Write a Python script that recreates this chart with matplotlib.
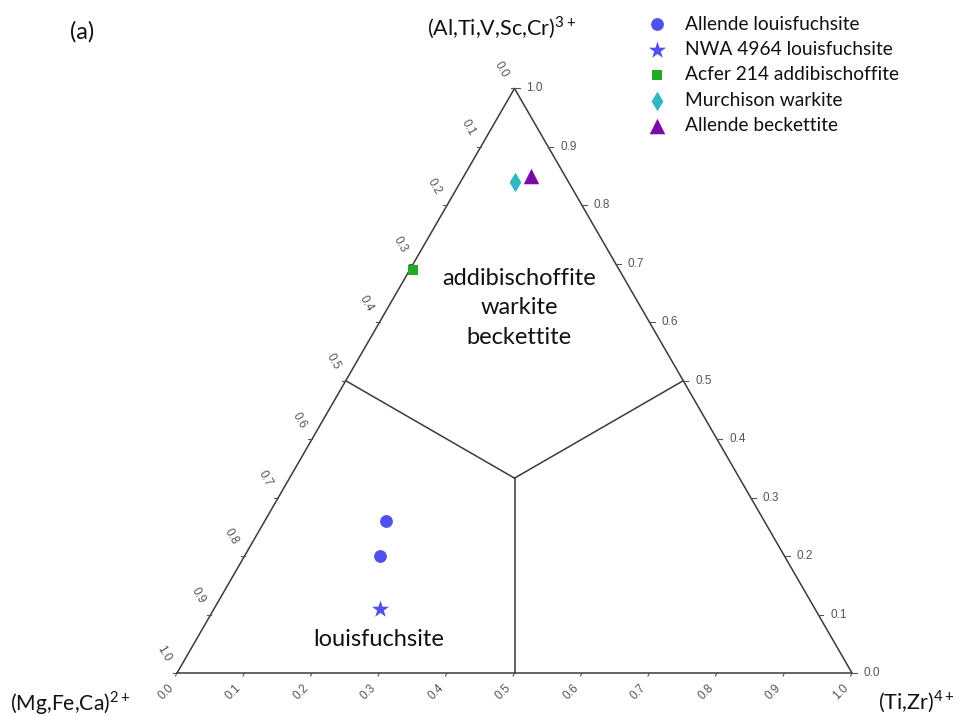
import numpy as np
import matplotlib
matplotlib.use("Agg")
import matplotlib.pyplot as plt

# ---- compositions (fractions of (Mg,Fe,Ca)2+, (Ti,Zr)4+, (Al,Ti,V,Sc,Cr)3+) ----
allende_lf_mg = [0.56, 0.60]
allende_lf_ti = [0.18, 0.20]
allende_lf_al = [0.26, 0.20]

nwa_lf_mg = [0.645]
nwa_lf_ti = [0.245]
nwa_lf_al = [0.11]

acfer_ad_mg = [0.305]
acfer_ad_ti = [0.005]
acfer_ad_al = [0.69]

murch_wk_mg = [0.08]
murch_wk_ti = [0.08]
murch_wk_al = [0.84]

allende_bk_mg = [0.05]
allende_bk_ti = [0.10]
allende_bk_al = [0.85]

tick_values = [0.0, 0.1, 0.2, 0.3, 0.4, 0.5, 0.6, 0.7, 0.8, 0.9, 1.0]
tick_labels = ["0.0", "0.1", "0.2", "0.3", "0.4", "0.5", "0.6", "0.7", "0.8", "0.9", "1.0"]

series_names = ["Allende louisfuchsite", "NWA 4964 louisfuchsite",
                "Acfer 214 addibischoffite", "Murchison warkite",
                "Allende beckettite"]

S3 = np.sqrt(3) / 2


def tern(mg, ti, al):
    ti = np.asarray(ti, float)
    al = np.asarray(al, float)
    return ti + al / 2, al * S3


W, H = 958, 716
X0, Y0, L = 177.0, 673.0, 675.0     # pixel placement of the triangle


def px(x, y):
    """figure pixel -> data coordinates"""
    return (x - X0) / L, (Y0 - y) / L


plt.rcParams['font.family'] = ['Lato', 'DejaVu Sans']
plt.rcParams['mathtext.fontset'] = 'custom'
plt.rcParams['mathtext.rm'] = 'Lato'

fig = plt.figure(figsize=(W / 100, H / 100), dpi=100)
ax = fig.add_axes([0, 0, 1, 1])
ax.set_xlim(-X0 / L, (W - X0) / L)
ax.set_ylim((Y0 - H) / L, Y0 / L)
ax.axis("off")

edge = "#3a3a3a"
# triangle outline
tx, ty = tern([1, 0, 0, 1], [0, 1, 0, 0], [0, 0, 1, 0])
ax.plot(tx, ty, color=edge, lw=1.1, zorder=2)

# field boundaries: centroid to edge midpoints
cx, cy = tern(1 / 3, 1 / 3, 1 / 3)
for mg, ti, al in [(0.5, 0, 0.5), (0, 0.5, 0.5), (0.5, 0.5, 0)]:
    mx, my = tern(mg, ti, al)
    ax.plot([cx, mx], [cy, my], color=edge, lw=1.1, zorder=2)

tick_color = "#555555"
tick_fs = 8.5
d = 1 / L
for v, lab in zip(tick_values, tick_labels):
    # bottom axis: (Ti,Zr)
    bx, by = tern(1 - v, v, 0)
    ax.plot([bx, bx - 1.5 * d], [by, by - 3 * d], color=tick_color, lw=0.8)
    ax.text(bx - 11 * d, by - 19 * d, lab, rotation=45, ha="center", va="center",
            fontsize=tick_fs, color=tick_color, family="Liberation Sans")
    # right axis: (Al,...)
    rx, ry = tern(0, 1 - v, v)
    ax.plot([rx, rx + 5 * d], [ry, ry], color=tick_color, lw=0.8)
    ax.text(rx + 12 * d, ry, lab, ha="left", va="center",
            fontsize=tick_fs, color=tick_color, family="Liberation Sans")
    # left axis: (Mg,...)
    lx, ly = tern(v, 0, 1 - v)
    ax.plot([lx, lx - 4 * d], [ly, ly], color=tick_color, lw=0.8)
    ax.text(lx - 13 * d, ly + 19 * d, lab, rotation=-60, ha="center", va="center",
            fontsize=tick_fs, color=tick_color, family="Liberation Sans")

# data
blue = "#5050f0"
h1 = ax.scatter(*tern(allende_lf_mg, allende_lf_ti, allende_lf_al), marker="o",
                s=85, color=blue, linewidths=0, zorder=5, label=series_names[0])
h2 = ax.scatter(*tern(nwa_lf_mg, nwa_lf_ti, nwa_lf_al), marker="*",
                s=170, color=blue, linewidths=0, zorder=5, label=series_names[1])
h3 = ax.scatter(*tern(acfer_ad_mg, acfer_ad_ti, acfer_ad_al), marker="s",
                s=50, color="#22aa22", linewidths=0, zorder=5, label=series_names[2])
h4 = ax.scatter(*tern(murch_wk_mg, murch_wk_ti, murch_wk_al), marker="d",
                s=100, color="#30b8c0", linewidths=0, zorder=5, label=series_names[3])
h5 = ax.scatter(*tern(allende_bk_mg, allende_bk_ti, allende_bk_al), marker="^",
                s=125, color="#7a0aa5", linewidths=0, zorder=5, label=series_names[4])

# field names
ax.text(*px(519, 308), "addibischoffite\nwarkite\nbeckettite", ha="center",
        va="center", fontsize=17, linespacing=1.5, color="#111111")
ax.text(*px(379, 640), "louisfuchsite", ha="center", va="center",
        fontsize=17, color="#111111")

# apex labels
ax.text(*px(502, 28), r"(Al,Ti,V,Sc,Cr)$^{\mathregular{3+}}$", ha="center",
        va="center", fontsize=15.5, color="#111111")
ax.text(*px(10, 703), r"(Mg,Fe,Ca)$^{\mathregular{2+}}$", ha="left",
        va="center", fontsize=15.2, color="#111111")
ax.text(*px(878, 702), r"(Ti,Zr)$^{\mathregular{4+}}$", ha="left",
        va="center", fontsize=15.5, color="#111111")
ax.text(*px(82, 32), "(a)", ha="center", va="center", fontsize=17,
        color="#111111")

leg = ax.legend(handles=[h1, h2, h3, h4, h5], loc="upper left",
                bbox_to_anchor=(647.5 / W, 1 - 15.5 / H), frameon=False,
                fontsize=13.8, handlelength=1.0, handletextpad=0.96,
                labelspacing=0.44, borderpad=0, borderaxespad=0,
                scatterpoints=1)
for t in leg.get_texts():
    t.set_color("#111111")

fig.savefig("out.png", dpi=100)
